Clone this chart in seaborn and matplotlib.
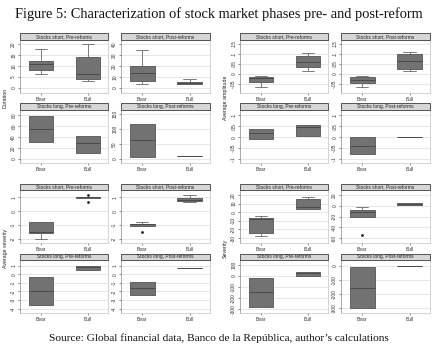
import numpy as np
import pandas as pd
import matplotlib
matplotlib.use("Agg")
import matplotlib.pyplot as plt
import seaborn as sns
from matplotlib.patches import Rectangle

sns.set_style("white")
plt.rcParams['font.family'] = ['Liberation Sans', 'DejaVu Sans']

# ---------------- data ----------------
phases = ["Bear", "Bull"]
panel_titles = ["Stocks short, Pre-reforms", "Stocks short, Post-reforms",
                "Stocks long, Pre-reforms", "Stocks long, Post-reforms"]
measures = ["Duration", "Average amplitude", "Average severity", "Severity"]

# five-number summaries [min, q1, median, q3, max]  -> [Bear, Bull]
duration_short_pre = [[6.1, 7.9, 10.9, 12.0, 17.7], [3.2, 4.1, 6.2, 13.9, 19.8]]
duration_short_post = [[3.3, 6.4, 13.3, 20.0, 34.5], [3.0, 3.0, 4.2, 5.5, 7.9]]
duration_long_pre = [[31, 31, 54, 78, 78], [11, 11, 29, 41, 41]]
duration_long_post = [[7, 7, 62, 117, 117], [9, 9, 9, 9, 9]]

amplitude_short_pre = [[-0.066, -0.040, -0.023, -0.015, -0.010], [0.012, 0.035, 0.058, 0.086, 0.102]]
amplitude_short_post = [[-0.066, -0.046, -0.030, -0.015, -0.010], [0.012, 0.025, 0.061, 0.100, 0.110]]
amplitude_long_pre = [[-0.008, -0.008, 0.018, 0.038, 0.038], [0.003, 0.003, 0.045, 0.055, 0.055]]
amplitude_long_post = [[-0.077, -0.077, -0.039, 0.0, 0.0], [0.0, 0.0, 0.0, 0.0, 0.0]]

avg_severity_short_pre = [[-2.0, -1.56, -1.50, -0.78, -0.78], [0.97, 0.98, 1.0, 1.02, 1.03]]
avg_severity_short_post = [[-1.05, -1.05, -0.97, -0.90, -0.76], [0.63, 0.73, 0.83, 0.93, 1.17]]
avg_severity_long_pre = [[-3.6, -3.6, -1.96, -0.35, -0.35], [0.53, 0.53, 0.80, 1.0, 1.0]]
avg_severity_long_post = [[-2.4, -2.4, -1.6, -0.92, -0.92], [0.7, 0.7, 0.7, 0.7, 0.7]]

severity_short_pre = [[-28, -24.2, -8.1, -7.3, -4.6], [3.5, 3.5, 5.8, 15.4, 18]]
severity_short_post = [[-20, -20, -10.5, -7.4, -2.5], [1.8, 1.8, 3.0, 5.0, 6.2]]
severity_long_pre = [[-285, -285, -147, -15, -15], [-3, -3, 24, 36, 36]]
severity_long_post = [[-299, -299, -157, -9, -9], [2, 2, 2, 2, 2]]

# outliers  -> [Bear, Bull]
avg_severity_short_pre_outliers = [[], [1.2, 0.68]]
avg_severity_short_post_outliers = [[-1.5], []]
severity_short_post_outliers = [[-53.7], []]
no_outliers = [[], []]

# y ticks and labels
duration_ticks = [[0, 5, 10, 15, 20], [0, 10, 20, 30, 40], [0, 20, 40, 60, 80], [0, 50, 100, 150]]
duration_ticklabels = [["0", "5", "10", "15", "20"], ["0", "10", "20", "30", "40"],
                       ["0", "20", "40", "60", "80"], ["0", "50", "100", "150"]]
amplitude_ticks = [[-0.05, 0, 0.05, 0.1, 0.15], [-0.05, 0, 0.05, 0.1, 0.15],
                   [-0.1, -0.05, 0, 0.05, 0.1], [-0.1, -0.05, 0, 0.05, 0.1]]
amplitude_ticklabels = [["-.05", "0", ".05", ".1", ".15"], ["-.05", "0", ".05", ".1", ".15"],
                        ["-.1", "-.05", "0", ".05", ".1"], ["-.1", "-.05", "0", ".05", ".1"]]
avg_severity_ticks = [[-2, -1, 0, 1], [-2, -1, 0, 1], [-4, -3, -2, -1, 0, 1], [-4, -3, -2, -1, 0, 1]]
avg_severity_ticklabels = [["-2", "-1", "0", "1"], ["-2", "-1", "0", "1"],
                           ["-4", "-3", "-2", "-1", "0", "1"], ["-4", "-3", "-2", "-1", "0", "1"]]
severity_ticks = [[-30, -20, -10, 0, 10, 20], [-60, -40, -20, 0, 20],
                  [-300, -200, -100, 0, 100], [-300, -200, -100, 0]]
severity_ticklabels = [["-30", "-20", "-10", "0", "10", "20"], ["-60", "-40", "-20", "0", "20"],
                       ["-300", "-200", "-100", "0", "100"], ["-300", "-200", "-100", "0"]]

# ---------------- layout ----------------
W, H = 436, 349
fig = plt.figure(figsize=(W / 100, H / 100), dpi=100)
fig.patch.set_facecolor("white")

col_x = [[(20, 108), (121, 210)], [(240, 328), (341, 430)]]
row_y = [[(40, 93), (110, 163)], [(190, 243), (260, 313)]]
HEADER = 6.5

ylims = {
    "Duration": [(-2.4, 21.8), (-4.8, 43.6), (-7.2, 88.9), (-13.2, 163)],
    "Average amplitude": [(-0.096, 0.168), (-0.096, 0.168), (-0.118, 0.124), (-0.118, 0.124)],
    "Average severity": [(-2.32, 1.54), (-2.32, 1.54), (-4.5, 1.65), (-4.5, 1.65)],
    "Severity": [(-35.8, 25.8), (-69, 29.6), (-336, 144), (-335, 42)],
}

quadrants = [
    ("Duration", 0, 0,
     [duration_short_pre, duration_short_post, duration_long_pre, duration_long_post],
     [no_outliers] * 4, duration_ticks, duration_ticklabels),
    ("Average amplitude", 1, 0,
     [amplitude_short_pre, amplitude_short_post, amplitude_long_pre, amplitude_long_post],
     [no_outliers] * 4, amplitude_ticks, amplitude_ticklabels),
    ("Average severity", 0, 1,
     [avg_severity_short_pre, avg_severity_short_post, avg_severity_long_pre, avg_severity_long_post],
     [avg_severity_short_pre_outliers, avg_severity_short_post_outliers, no_outliers, no_outliers],
     avg_severity_ticks, avg_severity_ticklabels),
    ("Severity", 1, 1,
     [severity_short_pre, severity_short_post, severity_long_pre, severity_long_post],
     [no_outliers, severity_short_post_outliers, no_outliers, no_outliers],
     severity_ticks, severity_ticklabels),
]

FS = 3.5
BOX_FILL = "#727272"
BOX_EDGE = "#545454"

for measure, qc, qr, panels, outs, ticks, tlabels in quadrants:
    for k in range(4):
        r, c = divmod(k, 2)
        x0, x1 = col_x[qc][c]
        y0, y1 = row_y[qr][r]
        ax = fig.add_axes([x0 / W, 1 - y1 / H, (x1 - x0) / W, (y1 - y0) / H])
        ax.set_facecolor("white")
        vals = panels[k]
        df = pd.DataFrame({"phase": np.repeat(phases, [len(vals[0]), len(vals[1])]),
                           "value": np.concatenate([vals[0], vals[1]])})
        sns.boxplot(data=df, x="phase", y="value", order=phases, ax=ax,
                    whis=(0, 100), width=0.52, color=BOX_FILL, saturation=1,
                    linecolor=BOX_EDGE, linewidth=0.6, capwidths=0.26,
                    medianprops=dict(color="#4a4a4a", linewidth=0.7),
                    whiskerprops=dict(color="#666666", linewidth=0.6),
                    capprops=dict(color="#666666", linewidth=0.6))
        o = outs[k]
        if len(o[0]) + len(o[1]) > 0:
            odf = pd.DataFrame({"phase": np.repeat(phases, [len(o[0]), len(o[1])]),
                                "value": np.concatenate([o[0], o[1]]).astype(float)})
            sns.stripplot(data=odf, x="phase", y="value", order=phases, ax=ax,
                          jitter=False, color="#222222", size=2.0, linewidth=0)
        ax.set_xlim(-0.45, 1.43)
        ax.set_ylim(*ylims[measure][k])
        ax.set_yticks(ticks[k])
        ax.set_yticklabels(tlabels[k], rotation=90, va="center", fontsize=FS)
        ax.set_xticks([0, 1])
        ax.set_xticklabels(phases, fontsize=FS)
        ax.set_xlabel("")
        ax.set_ylabel("")
        ax.yaxis.grid(True, color="#e2e2e2", linewidth=0.6)
        ax.set_axisbelow(True)
        ax.tick_params(axis="y", length=1.5, width=0.4, pad=1.2, colors="#333333", left=True)
        ax.tick_params(axis="x", length=1.5, width=0.4, pad=1.2, colors="#333333", bottom=True)
        for s in ax.spines.values():
            s.set_color("#c4c4c4")
            s.set_linewidth(0.5)
        ax.spines["left"].set_color("#8a8a8a")
        hfrac = HEADER / (y1 - y0)
        ax.add_patch(Rectangle((0, 1), 1, hfrac, transform=ax.transAxes, clip_on=False,
                               facecolor="#d6d6d6", edgecolor="#3c3c3c", linewidth=0.6, zorder=5))
        ax.text(0.5, 1 + hfrac / 2, panel_titles[k], transform=ax.transAxes,
                ha="center", va="center", fontsize=FS, color="#222222", zorder=6)
    # quadrant y label
    qx = 5 if qc == 0 else 225
    yc = (row_y[qr][0][0] - HEADER + row_y[qr][1][1]) / 2
    fig.text(qx / W, 1 - yc / H, measure, rotation=90, ha="center", va="center",
             fontsize=FS + 0.3, color="#222222")

fig.text(219 / W, 1 - 14 / H, "Figure 5: Characterization of stock market phases pre- and post-reform",
         ha="center", va="center", fontsize=10.4, family="Liberation Serif", color="#111111")
fig.text(219 / W, 1 - 338 / H, "Source: Global financial data, Banco de la República, author’s calculations",
         ha="center", va="center", fontsize=8.2, family="Liberation Serif", color="#111111")

fig.savefig("out.png", dpi=100, facecolor="white")
